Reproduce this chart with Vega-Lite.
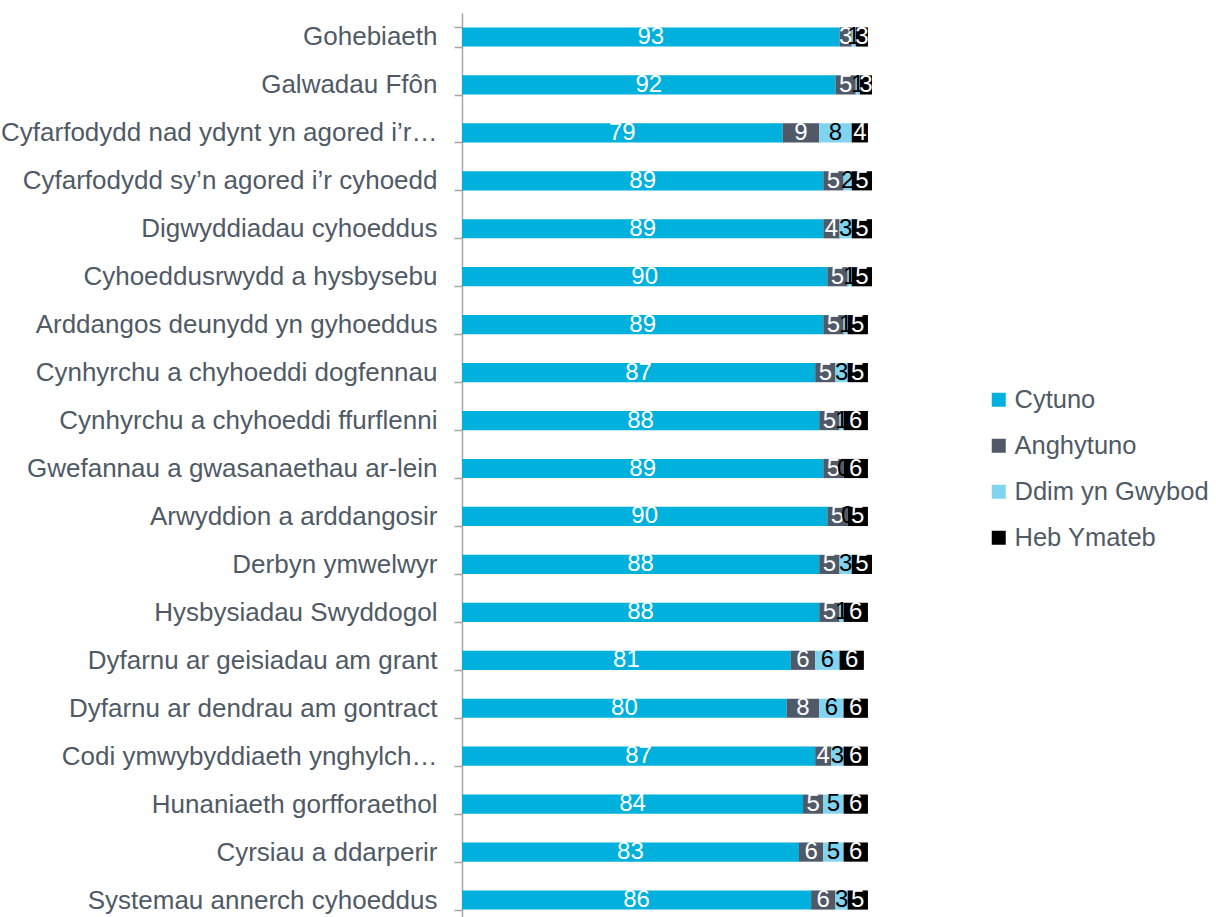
{
  "$schema": "https://vega.github.io/schema/vega-lite/v6.json",
  "autosize": "none",
  "padding": {"left": 462, "top": 13, "right": 344, "bottom": 0},
  "width": 410,
  "height": 904,
  "background": "white",
  "config": {
    "view": {"stroke": null},
    "font": "Liberation Sans"
  },
  "datasets": {
    "survey": [
      {"q": "Gohebiaeth", "cat": "Cytuno", "o": 1, "v": 93},
      {"q": "Gohebiaeth", "cat": "Anghytuno", "o": 2, "v": 3},
      {"q": "Gohebiaeth", "cat": "Ddim yn Gwybod", "o": 3, "v": 1},
      {"q": "Gohebiaeth", "cat": "Heb Ymateb", "o": 4, "v": 3},
      {"q": "Galwadau Ffôn", "cat": "Cytuno", "o": 1, "v": 92},
      {"q": "Galwadau Ffôn", "cat": "Anghytuno", "o": 2, "v": 5},
      {"q": "Galwadau Ffôn", "cat": "Ddim yn Gwybod", "o": 3, "v": 1},
      {"q": "Galwadau Ffôn", "cat": "Heb Ymateb", "o": 4, "v": 3},
      {"q": "Cyfarfodydd  nad ydynt yn agored i’r…", "cat": "Cytuno", "o": 1, "v": 79},
      {"q": "Cyfarfodydd  nad ydynt yn agored i’r…", "cat": "Anghytuno", "o": 2, "v": 9},
      {"q": "Cyfarfodydd  nad ydynt yn agored i’r…", "cat": "Ddim yn Gwybod", "o": 3, "v": 8},
      {"q": "Cyfarfodydd  nad ydynt yn agored i’r…", "cat": "Heb Ymateb", "o": 4, "v": 4},
      {"q": "Cyfarfodydd sy’n agored i’r cyhoedd", "cat": "Cytuno", "o": 1, "v": 89},
      {"q": "Cyfarfodydd sy’n agored i’r cyhoedd", "cat": "Anghytuno", "o": 2, "v": 5},
      {"q": "Cyfarfodydd sy’n agored i’r cyhoedd", "cat": "Ddim yn Gwybod", "o": 3, "v": 2},
      {"q": "Cyfarfodydd sy’n agored i’r cyhoedd", "cat": "Heb Ymateb", "o": 4, "v": 5},
      {"q": "Digwyddiadau cyhoeddus", "cat": "Cytuno", "o": 1, "v": 89},
      {"q": "Digwyddiadau cyhoeddus", "cat": "Anghytuno", "o": 2, "v": 4},
      {"q": "Digwyddiadau cyhoeddus", "cat": "Ddim yn Gwybod", "o": 3, "v": 3},
      {"q": "Digwyddiadau cyhoeddus", "cat": "Heb Ymateb", "o": 4, "v": 5},
      {"q": "Cyhoeddusrwydd a hysbysebu", "cat": "Cytuno", "o": 1, "v": 90},
      {"q": "Cyhoeddusrwydd a hysbysebu", "cat": "Anghytuno", "o": 2, "v": 5},
      {"q": "Cyhoeddusrwydd a hysbysebu", "cat": "Ddim yn Gwybod", "o": 3, "v": 1},
      {"q": "Cyhoeddusrwydd a hysbysebu", "cat": "Heb Ymateb", "o": 4, "v": 5},
      {"q": "Arddangos deunydd yn gyhoeddus", "cat": "Cytuno", "o": 1, "v": 89},
      {"q": "Arddangos deunydd yn gyhoeddus", "cat": "Anghytuno", "o": 2, "v": 5},
      {"q": "Arddangos deunydd yn gyhoeddus", "cat": "Ddim yn Gwybod", "o": 3, "v": 1},
      {"q": "Arddangos deunydd yn gyhoeddus", "cat": "Heb Ymateb", "o": 4, "v": 5},
      {"q": "Cynhyrchu a chyhoeddi dogfennau", "cat": "Cytuno", "o": 1, "v": 87},
      {"q": "Cynhyrchu a chyhoeddi dogfennau", "cat": "Anghytuno", "o": 2, "v": 5},
      {"q": "Cynhyrchu a chyhoeddi dogfennau", "cat": "Ddim yn Gwybod", "o": 3, "v": 3},
      {"q": "Cynhyrchu a chyhoeddi dogfennau", "cat": "Heb Ymateb", "o": 4, "v": 5},
      {"q": "Cynhyrchu a chyhoeddi ffurflenni", "cat": "Cytuno", "o": 1, "v": 88},
      {"q": "Cynhyrchu a chyhoeddi ffurflenni", "cat": "Anghytuno", "o": 2, "v": 5},
      {"q": "Cynhyrchu a chyhoeddi ffurflenni", "cat": "Ddim yn Gwybod", "o": 3, "v": 1},
      {"q": "Cynhyrchu a chyhoeddi ffurflenni", "cat": "Heb Ymateb", "o": 4, "v": 6},
      {"q": "Gwefannau a gwasanaethau ar-lein", "cat": "Cytuno", "o": 1, "v": 89},
      {"q": "Gwefannau a gwasanaethau ar-lein", "cat": "Anghytuno", "o": 2, "v": 5},
      {"q": "Gwefannau a gwasanaethau ar-lein", "cat": "Ddim yn Gwybod", "o": 3, "v": 0},
      {"q": "Gwefannau a gwasanaethau ar-lein", "cat": "Heb Ymateb", "o": 4, "v": 6},
      {"q": "Arwyddion a arddangosir", "cat": "Cytuno", "o": 1, "v": 90},
      {"q": "Arwyddion a arddangosir", "cat": "Anghytuno", "o": 2, "v": 5},
      {"q": "Arwyddion a arddangosir", "cat": "Ddim yn Gwybod", "o": 3, "v": 0},
      {"q": "Arwyddion a arddangosir", "cat": "Heb Ymateb", "o": 4, "v": 5},
      {"q": "Derbyn ymwelwyr", "cat": "Cytuno", "o": 1, "v": 88},
      {"q": "Derbyn ymwelwyr", "cat": "Anghytuno", "o": 2, "v": 5},
      {"q": "Derbyn ymwelwyr", "cat": "Ddim yn Gwybod", "o": 3, "v": 3},
      {"q": "Derbyn ymwelwyr", "cat": "Heb Ymateb", "o": 4, "v": 5},
      {"q": "Hysbysiadau Swyddogol", "cat": "Cytuno", "o": 1, "v": 88},
      {"q": "Hysbysiadau Swyddogol", "cat": "Anghytuno", "o": 2, "v": 5},
      {"q": "Hysbysiadau Swyddogol", "cat": "Ddim yn Gwybod", "o": 3, "v": 1},
      {"q": "Hysbysiadau Swyddogol", "cat": "Heb Ymateb", "o": 4, "v": 6},
      {"q": "Dyfarnu ar geisiadau am grant", "cat": "Cytuno", "o": 1, "v": 81},
      {"q": "Dyfarnu ar geisiadau am grant", "cat": "Anghytuno", "o": 2, "v": 6},
      {"q": "Dyfarnu ar geisiadau am grant", "cat": "Ddim yn Gwybod", "o": 3, "v": 6},
      {"q": "Dyfarnu ar geisiadau am grant", "cat": "Heb Ymateb", "o": 4, "v": 6},
      {"q": "Dyfarnu ar dendrau am gontract", "cat": "Cytuno", "o": 1, "v": 80},
      {"q": "Dyfarnu ar dendrau am gontract", "cat": "Anghytuno", "o": 2, "v": 8},
      {"q": "Dyfarnu ar dendrau am gontract", "cat": "Ddim yn Gwybod", "o": 3, "v": 6},
      {"q": "Dyfarnu ar dendrau am gontract", "cat": "Heb Ymateb", "o": 4, "v": 6},
      {"q": "Codi ymwybyddiaeth ynghylch…", "cat": "Cytuno", "o": 1, "v": 87},
      {"q": "Codi ymwybyddiaeth ynghylch…", "cat": "Anghytuno", "o": 2, "v": 4},
      {"q": "Codi ymwybyddiaeth ynghylch…", "cat": "Ddim yn Gwybod", "o": 3, "v": 3},
      {"q": "Codi ymwybyddiaeth ynghylch…", "cat": "Heb Ymateb", "o": 4, "v": 6},
      {"q": "Hunaniaeth gorfforaethol", "cat": "Cytuno", "o": 1, "v": 84},
      {"q": "Hunaniaeth gorfforaethol", "cat": "Anghytuno", "o": 2, "v": 5},
      {"q": "Hunaniaeth gorfforaethol", "cat": "Ddim yn Gwybod", "o": 3, "v": 5},
      {"q": "Hunaniaeth gorfforaethol", "cat": "Heb Ymateb", "o": 4, "v": 6},
      {"q": "Cyrsiau a ddarperir", "cat": "Cytuno", "o": 1, "v": 83},
      {"q": "Cyrsiau a ddarperir", "cat": "Anghytuno", "o": 2, "v": 6},
      {"q": "Cyrsiau a ddarperir", "cat": "Ddim yn Gwybod", "o": 3, "v": 5},
      {"q": "Cyrsiau a ddarperir", "cat": "Heb Ymateb", "o": 4, "v": 6},
      {"q": "Systemau annerch cyhoeddus", "cat": "Cytuno", "o": 1, "v": 86},
      {"q": "Systemau annerch cyhoeddus", "cat": "Anghytuno", "o": 2, "v": 6},
      {"q": "Systemau annerch cyhoeddus", "cat": "Ddim yn Gwybod", "o": 3, "v": 3},
      {"q": "Systemau annerch cyhoeddus", "cat": "Heb Ymateb", "o": 4, "v": 5}
    ]
  },
  "data": {"name": "survey"},
  "transform": [
    {"stack": "v", "groupby": ["q"], "sort": [{"field": "o", "order": "ascending"}], "as": ["v0", "v1"]},
    {"calculate": "(datum.v0 + datum.v1) / 2", "as": "mid"}
  ],
  "encoding": {
    "y": {
      "field": "q",
      "type": "nominal",
      "sort": null,
      "title": null,
      "scale": {"range": [0, 911], "paddingInner": 0.6, "paddingOuter": 0.3},
      "axis": {
        "domainColor": "#a6a6a6",
        "domainWidth": 1.5,
        "tickColor": "#a6a6a6",
        "tickWidth": 1.5,
        "tickSize": 8,
        "tickBand": "extent",
        "labelPadding": 17,
        "labelFont": "Liberation Sans",
        "labelFontSize": 26,
        "labelColor": "#505a66",
        "labelLimit": 470
      }
    }
  },
  "layer": [
    {
      "mark": {"type": "bar"},
      "encoding": {
        "x": {"field": "v0", "type": "quantitative", "scale": {"domain": [0, 101], "nice": false}, "axis": null},
        "x2": {"field": "v1"},
        "color": {
          "field": "cat",
          "type": "nominal",
          "scale": {
            "domain": ["Cytuno", "Anghytuno", "Ddim yn Gwybod", "Heb Ymateb"],
            "range": ["#00b0dd", "#4f5967", "#80d4f0", "#000000"]
          },
          "legend": {
            "title": null,
            "orient": "none",
            "legendX": 524,
            "legendY": 374,
            "symbolType": "square",
            "symbolSize": 196,
            "symbolStrokeWidth": 0,
            "labelFont": "Liberation Sans",
            "labelFontSize": 25.5,
            "labelColor": "#505a66",
            "labelOffset": 3,
            "labelLimit": 300,
            "rowPadding": 19,
            "padding": 0
          }
        }
      }
    },
    {
      "mark": {"type": "text", "font": "Liberation Sans", "fontSize": 24, "baseline": "middle", "align": "center"},
      "encoding": {
        "x": {"field": "mid", "type": "quantitative"},
        "text": {"field": "v", "type": "quantitative"},
        "color": {
          "condition": {"test": "datum.cat === 'Ddim yn Gwybod'", "value": "#000000"},
          "value": "#ffffff"
        }
      }
    }
  ]
}
